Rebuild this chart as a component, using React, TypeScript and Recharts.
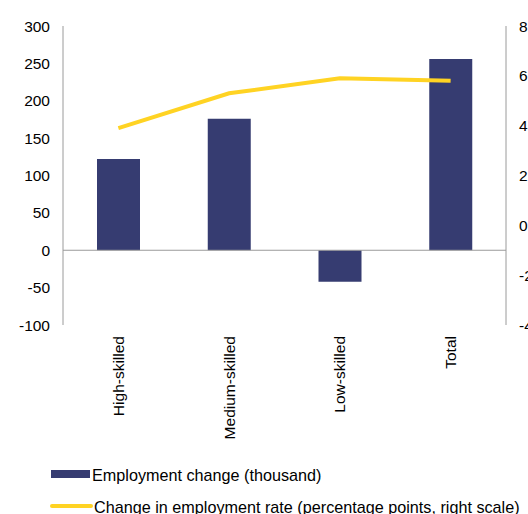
import React from 'react';
import { ComposedChart, Bar, Line, XAxis, YAxis, ReferenceLine, Legend } from 'recharts';

const categories = ['High-skilled', 'Medium-skilled', 'Low-skilled', 'Total'];
const employmentChange = [122, 176, -42, 256];
const rateChange = [3.9, 5.3, 5.9, 5.8];
const leftTicks = [-100, -50, 0, 50, 100, 150, 200, 250, 300];
const rightTicks = [-4, -2, 0, 2, 4, 6, 8];

const data = categories.map((c, i) => ({ name: c, emp: employmentChange[i], rate: rateChange[i] }));

const FONT = 'Arial, "Liberation Sans", sans-serif';
const BAR_COLOR = '#363C71';
const LINE_COLOR = '#FFD323';
const AXIS_COLOR = '#9A9A9A';
const FS = 15.5;
const LFS = 16.2;

const RotTick = (props: any) => {
  const { x, y, payload } = props;
  return (
    <text
      x={x}
      y={y + 3}
      transform={`rotate(-90 ${x} ${y + 3})`}
      textAnchor="end"
      dominantBaseline="central"
      fill="#000"
      fontSize={FS}
      fontFamily={FONT}
    >
      {payload.value}
    </text>
  );
};

const LegendContent = () => (
  <div style={{ position: 'relative', height: 64, fontFamily: FONT, fontSize: LFS, color: '#000' }}>
    <div style={{ position: 'absolute', left: 51, top: 20, width: 39, height: 8, background: BAR_COLOR }} />
    <div style={{ position: 'absolute', left: 92, top: 24.5, transform: 'translateY(-50%)', whiteSpace: 'nowrap' }}>
      Employment change (thousand)
    </div>
    <div style={{ position: 'absolute', left: 50, top: 54, width: 43, height: 4, background: LINE_COLOR, borderRadius: 2 }} />
    <div style={{ position: 'absolute', left: 94, top: 57, transform: 'translateY(-50%)', whiteSpace: 'nowrap' }}>
      Change in employment rate (percentage points, right scale)
    </div>
  </div>
);

export default function App() {
  return (
    <div style={{ position: 'fixed', left: 0, top: 0, width: 528, height: 514, overflow: 'hidden', background: '#fff' }}>
      <ComposedChart
        width={540}
        height={514}
        data={data}
        margin={{ top: 26, right: 4, bottom: 0, left: 0 }}
        barCategoryGap="30%"
      >
        <XAxis
          dataKey="name"
          xAxisId={0}
          axisLine={false}
          tickLine={false}
          height={125}
          interval={0}
          tick={<RotTick />}
        />
        <YAxis
          yAxisId="left"
          orientation="left"
          width={63}
          domain={[-100, 300]}
          ticks={leftTicks}
          interval={0}
          axisLine={{ stroke: AXIS_COLOR, strokeWidth: 1 }}
          tickLine={false}
          tickMargin={7}
          tick={{ fill: '#000', fontSize: FS, fontFamily: FONT }}
        />
        <YAxis
          yAxisId="right"
          orientation="right"
          width={30}
          domain={[-4, 8]}
          ticks={rightTicks}
          interval={0}
          axisLine={{ stroke: AXIS_COLOR, strokeWidth: 1 }}
          tickLine={false}
          tickMargin={7}
          tick={{ fill: '#000', fontSize: FS, fontFamily: FONT, textAnchor: 'start' }}
        />
        <ReferenceLine yAxisId="left" y={0} stroke={AXIS_COLOR} strokeWidth={1} />
        <Bar yAxisId="left" dataKey="emp" fill={BAR_COLOR} barSize={43} isAnimationActive={false} />
        <Line
          yAxisId="right"
          dataKey="rate"
          stroke={LINE_COLOR}
          strokeWidth={4}
          dot={false}
          activeDot={false}
          type="linear"
          isAnimationActive={false}
        />
        <Legend
          verticalAlign="bottom"
          layout="horizontal"
          align="left"
          content={<LegendContent />}
          wrapperStyle={{ left: 0, width: 528, height: 64 }}
        />
      </ComposedChart>
    </div>
  );
}
